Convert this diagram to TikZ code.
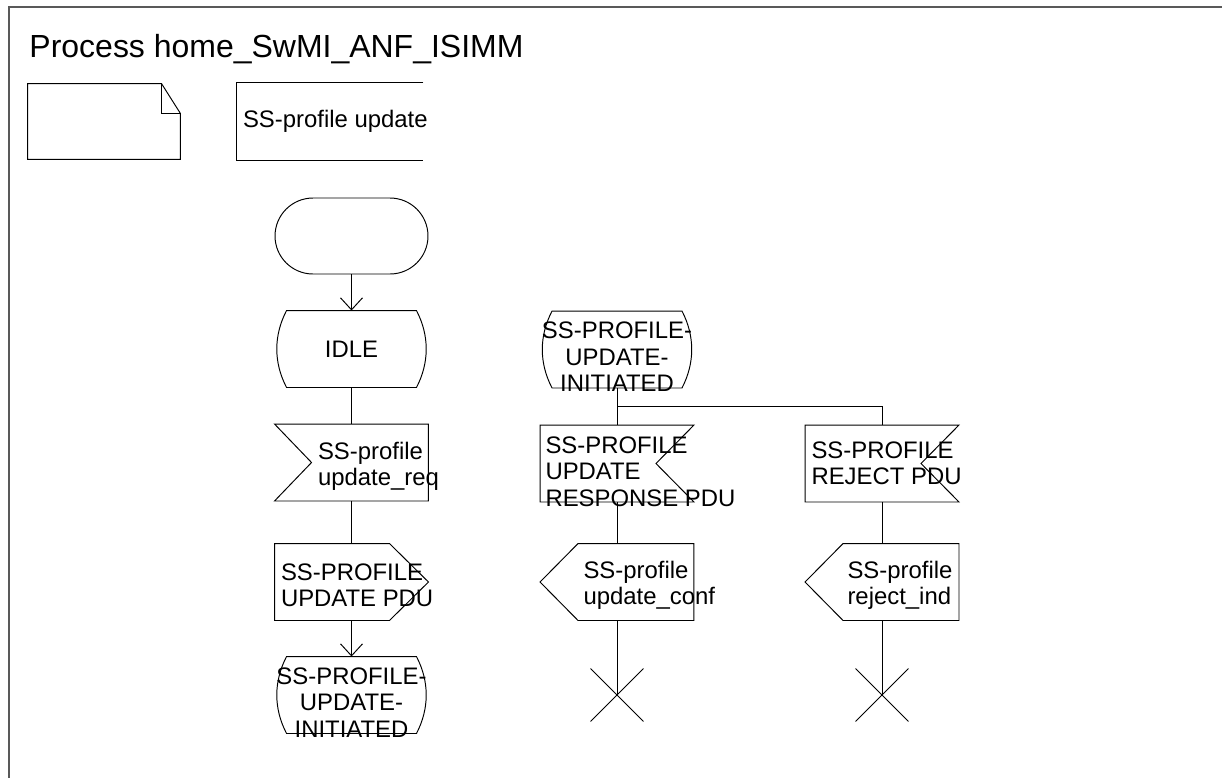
\documentclass[tikz,border=0pt]{standalone}
\usepackage{fontspec}
\setmainfont{Liberation Sans}
\usetikzlibrary{arrows.meta,calc}

\tikzset{
  sym/.style={minimum width=3.06cm, minimum height=1.52cm, inner sep=0pt},
  startsym/.style={sym, draw, rounded corners=0.76cm},
  stopsym/.style={minimum size=1.04cm, inner sep=0pt},
  lbl/.style={inner sep=0pt, align=left, font=\fontsize{13.6}{15}\selectfont},
  arr/.style={-{Straight Barb[length=0.24cm,width=0.44cm]}},
  frame/.style={line width=1.1pt, black!65}
}

\begin{document}
\begin{tikzpicture}[x=0.02cm, y=-0.02cm, line width=0.55pt]
      \useasboundingbox (0,0) rectangle (1222,778);
      \draw[frame] (1222,7) -- (9,7) -- (9,778);

      \node[anchor=base west, inner sep=0pt, font=\fontsize{18.2}{20}\selectfont] (title) at (29,57.5) {Process home\_SwMI\_ANF\_ISIMM};

      % text symbol and declaration
      \node[minimum width=3.04cm, minimum height=1.5cm, inner sep=0pt] (note) at (104,121.5) {};
      \draw (note.north west) -- ($(note.north east)+(-19,0)$) -- ($(note.north east)+(0,30)$) -- (note.south east) -- (note.south west) -- cycle;
      \draw ($(note.north east)+(-19,0)$) |- ($(note.north east)+(0,30)$);
      \node[minimum width=3.72cm, minimum height=1.54cm, inner sep=0pt,
        label={[lbl, anchor=west, xshift=0.12cm]west:SS-profile update}] (decl) at (330,121.5) {};
      \draw (decl.north east) -- (decl.north west) -- (decl.south west) -- (decl.south east);

      % left column
      \node[startsym] (start) at (351.5,236) {};
      \node[sym, label={[lbl, align=center]center:IDLE}] (idle) at (351.5,349) {};
      \node[sym, label={[lbl, anchor=west, xshift=0.86cm, yshift=-0.08cm]west:SS-profile\\update\_req}] (req) at (351.5,462.5) {};
      \node[sym, label={[lbl, anchor=west, xshift=0.12cm, yshift=-0.06cm]west:SS-PROFILE\\UPDATE PDU}] (pdu) at (351.5,582) {};
      \node[sym, label={[lbl, align=center, yshift=-0.15cm]center:SS-PROFILE-\\UPDATE-\\INITIATED}] (init1) at (351.5,695) {};

      % middle and right columns
      \node[sym, label={[lbl, align=center, yshift=-0.15cm]center:SS-PROFILE-\\UPDATE-\\INITIATED}] (init2) at (617,349.5) {};
      \node[sym, label={[lbl, anchor=west, xshift=0.1cm, yshift=-0.16cm]west:SS-PROFILE\\UPDATE\\RESPONSE PDU}] (resp) at (617,463.5) {};
      \node[sym, label={[lbl, anchor=west, xshift=0.86cm, yshift=-0.06cm]west:SS-profile\\update\_conf}] (conf) at (617,582) {};
      \node[stopsym] (stop1) at (617,695) {};
      \node[sym, label={[lbl, anchor=west, xshift=0.12cm]west:SS-PROFILE\\REJECT PDU}] (rej) at (882,463.5) {};
      \node[sym, label={[lbl, anchor=west, xshift=0.84cm, yshift=-0.06cm]west:SS-profile\\reject\_ind}] (ind) at (882,582) {};
      \node[stopsym] (stop2) at (882,695) {};

      % state outlines
      \foreach \n in {idle,init1,init2}
        \draw ($(\n.north west)+(12,0)$) -- ($(\n.north east)+(-12,0)$)
          .. controls +(13,25) and +(13,-25) .. ($(\n.south east)+(-12,0)$)
          -- ($(\n.south west)+(12,0)$)
          .. controls +(-13,-25) and +(-13,25) .. cycle;
      % inputs
      \draw (req.north west) -- (req.north east) -- (req.south east) -- (req.south west) -- ($(req.west)+(37,0)$) -- cycle;
      \foreach \n in {resp,rej}
        \draw (\n.north west) -- (\n.north east) -- ($(\n.east)+(-38,0)$) -- (\n.south east) -- (\n.south west) -- cycle;
      % outputs
      \draw (pdu.north west) -- ($(pdu.north east)+(-39,0)$) -- (pdu.east) -- ($(pdu.south east)+(-39,0)$) -- (pdu.south west) -- cycle;
      \foreach \n in {conf,ind}
        \draw (\n.west) -- ($(\n.north west)+(38,0)$) -- (\n.north east) -- (\n.south east) -- ($(\n.south west)+(38,0)$) -- cycle;
      % stops
      \foreach \n in {stop1,stop2}
        \draw (\n.north west) -- (\n.south east) (\n.north east) -- (\n.south west);

      % flow lines
      \draw[arr] (start.south) -- (idle.north);
      \draw (idle.south) -- (req.north);
      \draw (req.south) -- (pdu.north);
      \draw[arr] (pdu.south) -- (init1.north);
      \coordinate (fork) at ($(init2.south)!0.5!(resp.north)$);
      \draw (init2.south) -- (resp.north);
      \draw (fork) -| (rej.north);
      \draw (resp.south) -- (conf.north);
      \draw (conf.south) -- (stop1.center);
      \draw (rej.south) -- (ind.north);
      \draw (ind.south) -- (stop2.center);
    \end{tikzpicture}
\end{document}
